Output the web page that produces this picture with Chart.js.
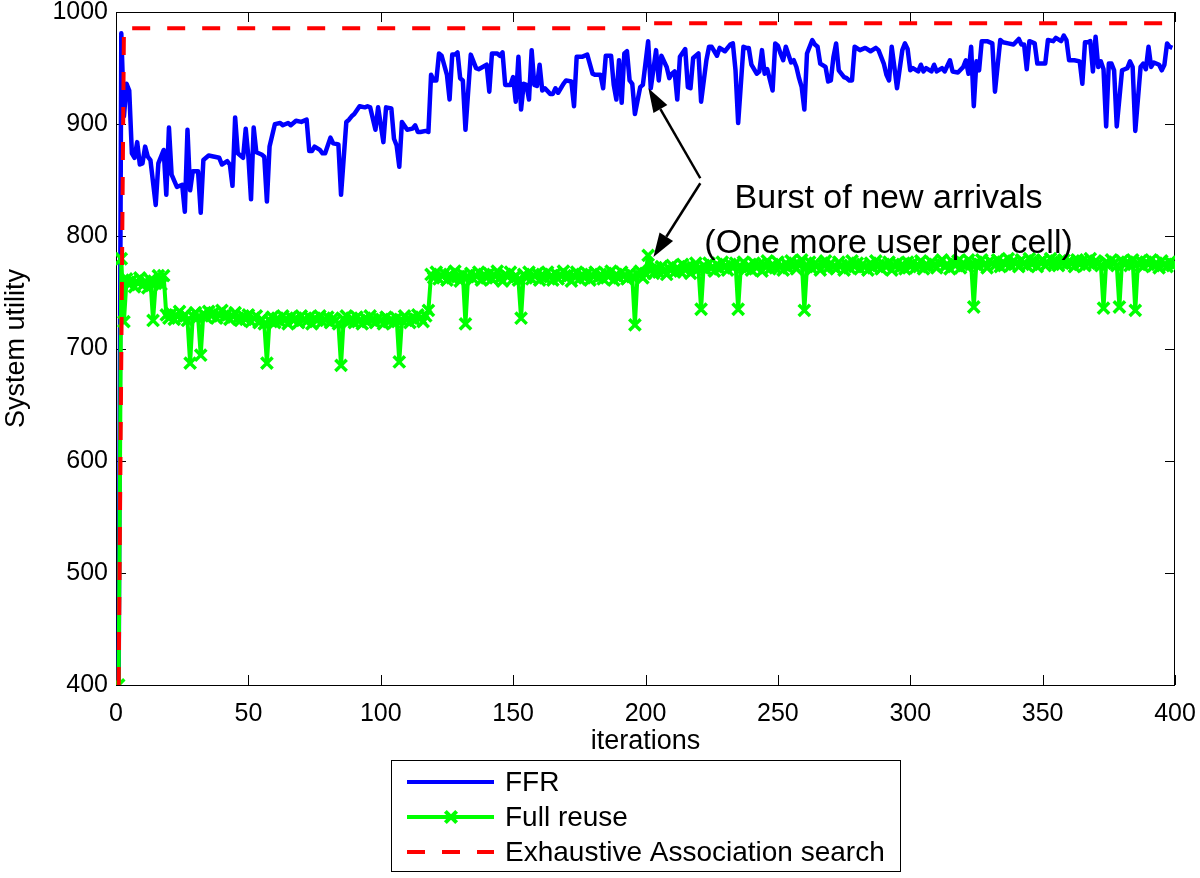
<!DOCTYPE html>
<html>
<head>
<meta charset="utf-8">
<script src="https://cdn.jsdelivr.net/npm/chart.js@4.4.0/dist/chart.umd.min.js"></script>
<style>
  html, body { margin: 0; padding: 0; background: #fff; }
  #chart { display: block; }
</style>
</head>
<body>
<canvas id="chart" width="1200" height="878"></canvas>
<script>
// ----- Datos -----
// FFR: pares [iteracion, utilidad]
const ffrPoints = [
  [1,400],[2,981],[3,907],[4,936],[5,930],[6,874],[7,870],[8,884],[9,864],[10,865],[11,880],[12,871],[13,868],
  [15,828],[16,865],[18,877],[19,837],[20,897],[21,855],[23,844],[25,846],[26,822],[27,895],[28,841],[29,858],
  [31,858],[32,821],[33,868],[35,872],[39,870],[40,864],[42,867],[43,864],[44,845],[45,906],[46,874],[48,870],
  [49,896],[50,871],[51,833],[52,897],[53,875],[55,873],[56,871],[57,831],[58,880],[60,900],[62,901],[63,899],
  [65,901],[66,899],[68,903],[70,902],[72,904],[73,876],[74,876],[75,880],[77,877],[78,874],[79,874],[81,888],
  [82,883],[84,882],[85,837],[87,902],[88,904],[89,907],[90,909],[92,916],[94,915],[95,916],[96,915],[98,895],
  [99,915],[101,884],[102,915],[104,914],[105,887],[106,881],[107,862],[108,902],[110,895],[112,896],[113,899],
  [114,893],[115,893],[117,894],[118,893],[119,944],[120,939],[121,939],[122,963],[123,961],[125,944],[126,922],
  [127,962],[128,962],[129,964],[130,941],[131,939],[132,895],[134,962],[136,950],[137,949],[140,953],[141,929],
  [142,963],[144,963],[145,961],[146,964],[147,935],[149,935],[150,942],[151,920],[152,960],[153,913],[154,936],
  [155,935],[156,922],[157,966],[158,935],[159,934],[160,953],[161,930],[162,932],[164,927],[165,927],[166,932],
  [167,928],[169,936],[170,939],[172,938],[173,916],[174,960],[176,960],[178,962],[180,945],[181,944],[183,944],
  [184,932],[185,961],[187,961],[188,935],[189,922],[190,957],[191,919],[192,963],[193,965],[194,939],[195,936],
  [196,909],[198,933],[199,935],[201,974],[202,932],[204,966],[205,939],[206,961],[208,951],[209,941],[210,945],
  [211,947],[212,922],[213,960],[215,967],[216,933],[217,932],[218,959],[220,963],[221,920],[223,957],[224,969],
  [225,969],[227,961],[228,968],[230,965],[232,971],[233,972],[234,948],[235,901],[237,969],[238,968],[239,968],
  [240,953],[242,945],[243,947],[244,966],[245,945],[246,949],[248,930],[249,972],[250,970],[251,963],[252,957],
  [253,969],[255,955],[256,957],[257,951],[258,941],[259,933],[260,913],[261,963],[263,975],[264,971],[265,969],
  [266,954],[268,951],[269,938],[270,939],[271,960],[272,972],[273,948],[275,942],[276,941],[277,939],[278,939],
  [279,969],[281,966],[283,968],[285,965],[287,968],[288,966],[290,954],[291,944],[292,939],[293,969],[294,951],
  [295,932],[297,966],[298,972],[299,967],[300,948],[301,950],[303,947],[304,953],[305,947],[306,950],[308,947],
  [309,953],[310,947],[312,950],[313,947],[315,957],[316,947],[318,946],[320,951],[321,957],[322,945],[323,969],
  [324,916],[325,956],[326,948],[327,974],[329,974],[331,972],[332,929],[334,975],[335,973],[337,972],[339,971],
  [341,976],[342,971],[343,971],[344,949],[345,974],[347,972],[348,954],[351,954],[352,975],[354,974],[355,977],
  [357,974],[358,979],[359,975],[360,957],[362,957],[364,956],[365,936],[366,973],[367,973],[368,974],[369,947],
  [370,978],[371,951],[372,956],[373,949],[374,898],[375,954],[376,954],[377,948],[378,898],[380,948],[381,949],
  [382,950],[383,956],[384,951],[385,894],[387,951],[388,954],[389,949],[390,969],[391,951],[392,955],[394,953],
  [395,948],[396,953],[397,972],[398,969],[399,968]
];

// Full reuse: un valor por iteracion, 1..400
const fullReuse = [
  400,780,724,762,757,761,755,759,763,756,760,754,761,725,758,765,757,765,730,727,
  731,726,729,733,727,730,725,687,729,732,728,694,731,728,733,729,732,727,730,734,
  728,731,726,729,732,727,725,729,726,730,724,727,729,723,726,722,687,725,728,723,
  727,724,729,726,722,728,725,727,723,729,726,724,728,722,727,725,729,724,726,728,
  723,727,725,722,685,726,729,724,727,723,728,725,722,727,724,729,726,723,727,725,
  722,728,724,726,723,727,688,725,729,726,723,728,725,730,727,724,729,734,766,763,
  768,762,765,767,761,766,763,769,764,760,766,722,764,767,762,765,768,761,766,763,
  767,762,765,769,763,760,766,764,768,762,765,761,727,766,763,768,762,765,767,761,
  766,763,768,764,761,767,762,765,769,763,766,760,765,768,762,766,763,767,761,765,
  768,763,766,762,767,764,769,761,766,763,768,765,762,767,764,721,766,769,763,767,
  783,770,767,772,768,773,769,766,771,774,768,772,769,775,770,773,767,772,776,771,
  735,774,770,776,772,769,775,771,777,773,770,775,772,776,735,773,777,771,774,770,
  776,772,775,769,774,778,771,775,772,777,773,770,776,772,778,774,771,775,779,734,
  773,777,771,776,774,770,775,778,772,776,773,771,777,774,770,775,772,778,773,776,
  771,775,773,770,776,772,778,774,771,775,773,777,770,774,776,772,775,771,777,773,
  776,772,774,778,771,775,773,777,774,772,776,779,773,775,771,777,774,778,772,776,
  774,779,775,737,777,773,779,775,772,778,776,774,779,773,777,775,780,774,778,776,
  773,779,776,774,780,775,778,773,777,779,774,776,780,775,778,774,777,779,775,778,
  776,773,779,775,778,774,777,780,775,778,776,774,736,777,775,779,776,774,737,778,
  775,777,774,779,734,776,778,773,777,775,779,774,776,772,778,775,773,777,774,775
];

// Exhaustive Association search
const exhaustiveIter = [1, 3, 200, 201, 400];
const exhaustiveValue = [400, 985.5, 985.5, 990, 990];

const seriesNames = ["FFR", "Full reuse", "Exhaustive Association search"];
const noteLines = ["Burst of new arrivals", "(One more user per cell)"];

const FONT = "'Liberation Sans', Arial, Helvetica, sans-serif";
Chart.defaults.font.family = FONT;
Chart.defaults.color = "#000";

const AZUL = "#0000ff", VERDE = "#00ff00", ROJO = "#ff0000";

// ----- Marco con marcas hacia dentro (estilo MATLAB) -----
const marcoPlugin = {
  id: "marco",
  beforeDatasetsDraw(chart) {
    const { ctx, chartArea: a, scales: { x, y } } = chart;
    ctx.save();
    ctx.strokeStyle = "#000";
    ctx.lineWidth = 1;
    ctx.strokeRect(a.left + 0.5, a.top + 0.5, a.right - a.left - 1, a.bottom - a.top);
    ctx.beginPath();
    x.ticks.forEach(t => {
      const px = Math.round(x.getPixelForValue(t.value)) + 0.5;
      ctx.moveTo(px, a.bottom); ctx.lineTo(px, a.bottom - 10);
      ctx.moveTo(px, a.top); ctx.lineTo(px, a.top + 10);
    });
    y.ticks.forEach(t => {
      const py = Math.round(y.getPixelForValue(t.value)) + 0.5;
      ctx.moveTo(a.left, py); ctx.lineTo(a.left + 10, py);
      ctx.moveTo(a.right, py); ctx.lineTo(a.right - 10, py);
    });
    ctx.stroke();
    ctx.restore();
  }
};

// ----- Anotacion con flechas -----
function flecha(ctx, x1, y1, x2, y2) {
  const ang = Math.atan2(y2 - y1, x2 - x1);
  const largo = 24, ancho = 8;
  const bx = x2 - largo * Math.cos(ang), by = y2 - largo * Math.sin(ang);
  ctx.beginPath();
  ctx.moveTo(x1, y1);
  ctx.lineTo(bx, by);
  ctx.stroke();
  ctx.beginPath();
  ctx.moveTo(x2, y2);
  ctx.lineTo(bx + ancho * Math.sin(ang), by - ancho * Math.cos(ang));
  ctx.lineTo(bx - ancho * Math.sin(ang), by + ancho * Math.cos(ang));
  ctx.closePath();
  ctx.fill();
}

const notaPlugin = {
  id: "nota",
  afterDatasetsDraw(chart) {
    const { ctx, scales: { x, y } } = chart;
    ctx.save();
    ctx.fillStyle = "#000";
    ctx.strokeStyle = "#000";
    ctx.lineWidth = 2.5;
    const tx = x.getPixelForValue(220.7), ty = y.getPixelForValue(850);
    flecha(ctx, tx, ty - 2, x.getPixelForValue(201.1), y.getPixelForValue(932));
    flecha(ctx, tx, ty + 3, x.getPixelForValue(203), y.getPixelForValue(781.6));
    ctx.font = "34px " + FONT;
    ctx.textAlign = "center";
    ctx.textBaseline = "alphabetic";
    const cx = x.getPixelForValue(291.8);
    ctx.fillText(noteLines[0], cx, y.getPixelForValue(825.3));
    ctx.fillText(noteLines[1], cx, y.getPixelForValue(785.1));
    ctx.restore();
  }
};

// ----- Leyenda en recuadro -----
const leyendaPlugin = {
  id: "leyenda",
  afterDraw(chart) {
    const { ctx } = chart;
    const box = { left: 391, top: 760, right: 900, bottom: 871 };
    const filas = [782, 817, 852];
    ctx.save();
    ctx.fillStyle = "#fff";
    ctx.fillRect(box.left, box.top, box.right - box.left, box.bottom - box.top);
    ctx.strokeStyle = "#000";
    ctx.lineWidth = 1;
    ctx.strokeRect(box.left + 0.5, box.top + 0.5, box.right - box.left, box.bottom - box.top);

    chart.data.datasets.forEach(ds => {
      const fy = filas[ds.legendRow];
      ctx.strokeStyle = ds.borderColor;
      ctx.lineWidth = 4;
      ctx.setLineDash(ds.borderDash || []);
      ctx.beginPath();
      ctx.moveTo(407, fy);
      ctx.lineTo(494, fy);
      ctx.stroke();
      ctx.setLineDash([]);
      if (ds.pointRadius > 0) {
        Chart.helpers.drawPoint(ctx, {
          pointStyle: ds.pointStyle, radius: ds.pointRadius, borderWidth: ds.pointBorderWidth, rotation: 0
        }, 451, fy);
      }
      ctx.fillStyle = "#000";
      ctx.font = "28px " + FONT;
      ctx.textAlign = "left";
      ctx.textBaseline = "middle";
      ctx.fillText(ds.label, 505, fy + 1);
    });
    ctx.restore();
  }
};

const ctx = document.getElementById("chart").getContext("2d");

new Chart(ctx, {
  type: "line",
  data: {
    datasets: [
      {
        label: seriesNames[2],
        legendRow: 2,
        data: exhaustiveIter.map((it, i) => ({ x: it, y: exhaustiveValue[i] })),
        borderColor: ROJO,
        borderWidth: 4,
        borderDash: [18, 17],
        pointRadius: 0,
        tension: 0,
        order: 0
      },
      {
        label: seriesNames[1],
        legendRow: 1,
        data: fullReuse.map((v, i) => ({ x: i + 1, y: v })),
        borderColor: VERDE,
        backgroundColor: VERDE,
        borderWidth: 4,
        borderJoinStyle: "round",
        pointStyle: "crossRot",
        pointRadius: 8,
        pointBorderWidth: 3.5,
        pointBorderColor: VERDE,
        tension: 0,
        order: 1
      },
      {
        label: seriesNames[0],
        legendRow: 0,
        data: ffrPoints.map(p => ({ x: p[0], y: p[1] })),
        borderColor: AZUL,
        borderWidth: 4.5,
        borderJoinStyle: "round",
        pointRadius: 0,
        tension: 0,
        order: 2
      }
    ]
  },
  options: {
    responsive: false,
    animation: false,
    devicePixelRatio: 1,
    events: [],
    layout: { padding: { left: 0, right: 25, top: 12, bottom: 0 } },
    plugins: {
      legend: { display: false },
      tooltip: { enabled: false }
    },
    scales: {
      x: {
        type: "linear",
        min: 0,
        max: 400,
        grid: { display: false, drawTicks: false },
        border: { display: false },
        ticks: { stepSize: 50, autoSkip: false, maxRotation: 0, padding: 14, font: { size: 25 }, color: "#000",
                 callback: v => String(v) },
        title: { display: true, text: "iterations", font: { size: 27 }, color: "#000", padding: { top: 0, bottom: 120 } },
        afterFit(s) { s.height = 193; s.paddingLeft = 0; s.paddingRight = 0; }
      },
      y: {
        min: 400,
        max: 1000,
        grid: { display: false, drawTicks: false },
        border: { display: false },
        ticks: { stepSize: 100, autoSkip: false, padding: 8, font: { size: 25 }, color: "#000",
                 callback: v => String(v) },
        title: { display: true, text: "System utility", font: { size: 27 }, color: "#000", padding: { top: 0, bottom: 0 } },
        afterFit(s) { s.width = 116; s.paddingTop = 0; s.paddingBottom = 0; }
      }
    }
  },
  plugins: [marcoPlugin, notaPlugin, leyendaPlugin]
});
</script>
</body>
</html>
